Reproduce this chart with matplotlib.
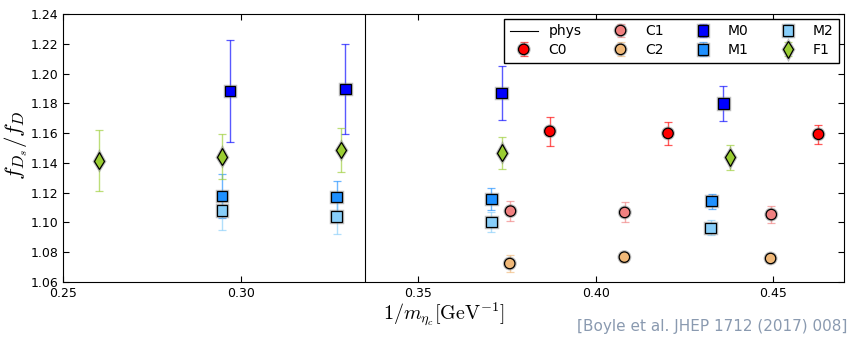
import matplotlib
matplotlib.use("Agg")
import matplotlib.pyplot as plt
import matplotlib.patheffects as pe

# ensemble data: 1/m_etac, f_Ds/f_D, error
c0_x = [0.3871, 0.4204, 0.4628]
c0_y = [1.1612, 1.1598, 1.1592]
c0_e = [0.0096, 0.0076, 0.0062]

c1_x = [0.3760, 0.4082, 0.4495]
c1_y = [1.1076, 1.1067, 1.1053]
c1_e = [0.0067, 0.0067, 0.0056]

c2_x = [0.3758, 0.4081, 0.4493]
c2_y = [1.0724, 1.0767, 1.0758]
c2_e = [0.0057, 0.0030, 0.0025]

m0_x = [0.2969, 0.3295, 0.3735, 0.4360]
m0_y = [1.1882, 1.1897, 1.1869, 1.1799]
m0_e = [0.0344, 0.0300, 0.0181, 0.0118]

m1_x = [0.2947, 0.3270, 0.3706, 0.4327]
m1_y = [1.1178, 1.1170, 1.1158, 1.1143]
m1_e = [0.0150, 0.0109, 0.0074, 0.0051]

m2_x = [0.2947, 0.3270, 0.3706, 0.4324]
m2_y = [1.1080, 1.1040, 1.1002, 1.0964]
m2_e = [0.0128, 0.0116, 0.0067, 0.0049]

f1_x = [0.2601, 0.2947, 0.3283, 0.3736, 0.4379]
f1_y = [1.1415, 1.1442, 1.1486, 1.1468, 1.1437]
f1_e = [0.0206, 0.0150, 0.0145, 0.0108, 0.0085]

phys_x = 0.335

plt.rcParams['mathtext.fontset'] = 'cm'

fig = plt.figure(figsize=(8.5, 3.38), dpi=100)
ax = fig.add_axes([0.0745, 0.1657, 0.9185, 0.793])

ax.axvline(phys_x, color='black', lw=0.8, label='phys')

series = [
    ('C0', c0_x, c0_y, c0_e, 'o', '#ff0000'),
    ('C1', c1_x, c1_y, c1_e, 'o', '#f08080'),
    ('C2', c2_x, c2_y, c2_e, 'o', '#f0b878'),
    ('M0', m0_x, m0_y, m0_e, 's', '#0000ff'),
    ('M1', m1_x, m1_y, m1_e, 's', '#1e90ff'),
    ('M2', m2_x, m2_y, m2_e, 's', '#87cefa'),
    ('F1', f1_x, f1_y, f1_e, 'd', '#9acd32'),
]

halo = [pe.Stroke(linewidth=2.5, foreground='#808080', alpha=0.5), pe.Normal()]

for name, xs, ys, es, mk, col in series:
    cont = ax.errorbar(xs, ys, yerr=es, fmt=mk, color=col, ecolor=col,
                       elinewidth=1.0, capsize=3, capthick=1.0,
                       markersize=7.5 if mk != 'd' else 8.5,
                       markeredgecolor='black', markeredgewidth=0.9,
                       label=name, zorder=3)
    cont[0].set_path_effects(halo)
    for cl in cont[1]:
        cl.set_alpha(0.65)
    for bl in cont[2]:
        bl.set_alpha(0.65)

ax.set_xlim(0.25, 0.47)
ax.set_ylim(1.06, 1.24)
ax.set_xticks([0.25, 0.30, 0.35, 0.40, 0.45])
ax.set_xticklabels(['0.25', '0.30', '0.35', '0.40', '0.45'])
ax.set_yticks([1.06 + 0.02 * i for i in range(10)])
ax.set_yticklabels(['%.2f' % (1.06 + 0.02 * i) for i in range(10)])
ax.tick_params(direction='in', top=True, right=True, labelsize=9, length=4)

ax.set_ylabel(r'$f_{D_s}/f_D$', fontsize=16.5)
ax.yaxis.set_label_coords(-0.043, 0.51)
ax.set_xlabel(r'$1/m_{\eta_c}[\mathrm{GeV}^{-1}]$', fontsize=14.5)
ax.xaxis.set_label_coords(0.487, -0.068)

leg = ax.legend(loc='upper right', ncol=4, numpoints=1, fontsize=10,
                fancybox=False, edgecolor='black', framealpha=1,
                borderaxespad=0.35, columnspacing=1.8, handlelength=2.0,
                handletextpad=0.8, labelspacing=0.35)
leg.get_frame().set_linewidth(1.0)

fig.text(0.997, 0.033, '[Boyle et al. JHEP 1712 (2017) 008]', color='#8a9ab0',
         fontsize=11, ha='right', va='center')

fig.savefig('out.png', dpi=100)
